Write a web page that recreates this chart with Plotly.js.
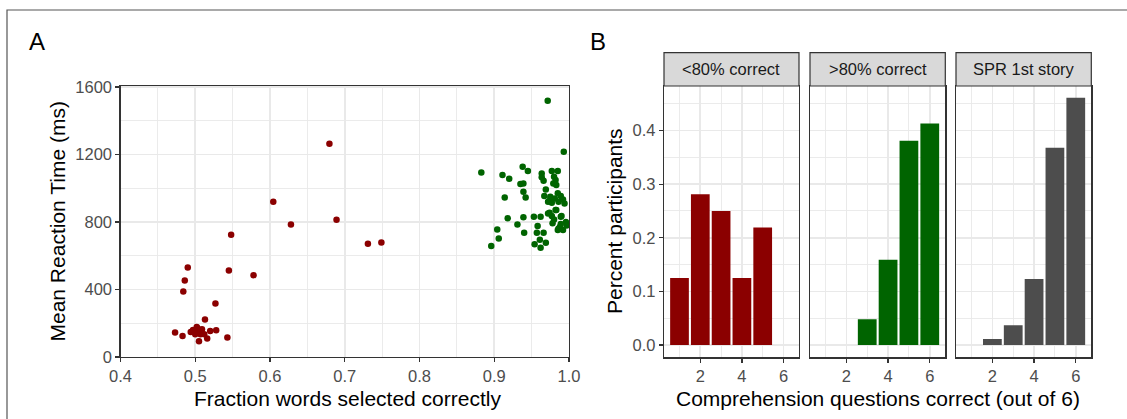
<!DOCTYPE html>
<html>
<head>
<meta charset="utf-8">
<script src="https://cdn.plot.ly/plotly-3.0.1.min.js"></script>
<style>html,body{margin:0;padding:0;background:#fff;}#chart{width:1127px;height:419px;}</style>
</head>
<body>
<div id="chart"></div>
<script>
// ---- Panel A data ----
const lowAccX = [0.6044,0.628,0.548,0.490,0.486,0.484,0.545,0.578,0.527,0.513,0.473,0.483,0.494,0.499,0.502,0.505,0.500,0.507,0.505,0.516,0.512,0.520,0.528,0.543,0.6795,0.689,0.731,0.749,0.497,0.509,0.503];
const lowAccRT = [920,786,724,530,453,388,513,485,317,222,145,125,148,154,178,158,135,135,93,109,135,154,158,115,1264,813,671,679,160,165,170];
const highAccX = [0.8827,0.911,0.920,0.938,0.945,0.935,0.939,0.939,0.942,0.914,0.918,0.931,0.939,0.904,0.906,0.896,0.940,0.953,0.962,0.958,0.957,0.966,0.961,0.954,0.962,0.969,0.9715,0.993,0.9635,0.9635,0.966,0.977,0.985,0.980,0.982,0.979,0.983,0.969,0.967,0.975,0.972,0.977,0.985,0.989,0.992,0.994,0.983,0.974,0.977,0.980,0.989,0.978,0.988,0.992,0.985,0.989,0.975,0.981,0.986,0.990,0.972,0.982,0.986,0.996,0.997];
const highAccRT = [1094,1078,1056,1128,1102,1025,1029,979,946,946,823,786,829,756,703,658,736,831,831,777,737,737,695,669,647,677,1519,1217,1088,1065,1045,1102,1102,1068,1049,1029,1019,993,954,934,920,914,970,954,934,910,871,855,835,815,831,792,772,752,752,788,950,940,920,835,851,871,762,800,780];
const xTicksA = [0.4,0.5,0.6,0.7,0.8,0.9,1.0];
const xTickLabelsA = ['0.4','0.5','0.6','0.7','0.8','0.9','1.0'];
const yTicksA = [0,400,800,1200,1600];

// ---- Panel B data ----
const questionsCorrect = [1,2,3,4,5,6];
const shareLow = [0.125,0.281,0.25,0.125,0.219,0];
const shareHigh = [0,0,0.048,0.159,0.381,0.413];
const shareSPR = [0,0.011,0.037,0.123,0.368,0.461];
const facetLabels = ['<80% correct','>80% correct','SPR 1st story'];
const yTicksB = [0,0.1,0.2,0.3,0.4];
const yTickLabelsB = ['0.0','0.1','0.2','0.3','0.4'];
const xTicksB = [2,4,6];

const W = 1127, H = 419;
const px = v => v / W;
const py = v => 1 - v / H;
const FONT = 'Liberation Sans, Arial, Helvetica, sans-serif';
const RED = '#8B0000', GREEN = '#006400', GREY = '#4D4D4D';
const GRID = '#E9E9E9', BORDER = '#333333', TICKC = '#4D4D4D';

const panelTop = 86, panelBot = 357.3;
const bPanels = [[664,799],[810,945.3],[956,1091.3]];

function baseAxis(extra) {
  return Object.assign({
    showgrid: true, gridcolor: GRID, gridwidth: 1.7,
    zeroline: false, showline: true, mirror: true, linecolor: BORDER, linewidth: 1.2,
    ticks: 'outside', ticklen: 4, tickwidth: 1.2, tickcolor: BORDER,
    tickfont: {family: FONT, size: 16.5, color: TICKC},
    fixedrange: true
  }, extra);
}

const traces = [
  {type:'scatter', mode:'markers', x: lowAccX, y: lowAccRT, xaxis:'x', yaxis:'y',
   marker:{color:RED, size:6.5}, hoverinfo:'x+y'},
  {type:'scatter', mode:'markers', x: highAccX, y: highAccRT, xaxis:'x', yaxis:'y',
   marker:{color:GREEN, size:6.5}, hoverinfo:'x+y'},
  {type:'bar', x: questionsCorrect, y: shareLow, xaxis:'x2', yaxis:'y2', width:0.9,
   marker:{color:RED, line:{width:0}}},
  {type:'bar', x: questionsCorrect, y: shareHigh, xaxis:'x3', yaxis:'y3', width:0.9,
   marker:{color:GREEN, line:{width:0}}},
  {type:'bar', x: questionsCorrect, y: shareSPR, xaxis:'x4', yaxis:'y4', width:0.9,
   marker:{color:GREY, line:{width:0}}}
];

const yDomB = [py(panelBot), py(panelTop)];
const layout = {
  width: W, height: H,
  margin: {l:0, r:0, t:0, b:0},
  paper_bgcolor: '#fff', plot_bgcolor: '#fff',
  showlegend: false,
  font: {family: FONT},
  xaxis: baseAxis({domain:[px(120.5), px(569)], range:[0.4,1.0], anchor:'y',
    tickvals: xTicksA, ticktext: xTickLabelsA,
    minor:{dtick:0.05, tick0:0.4, showgrid:true, gridcolor:GRID, gridwidth:0.9, ticks:''}}),
  yaxis: baseAxis({domain:[py(357), py(85.7)], range:[0,1608], anchor:'x',
    tickvals: yTicksA,
    minor:{dtick:200, tick0:0, showgrid:true, gridcolor:GRID, gridwidth:0.9, ticks:''}}),
  annotations: [],
  shapes: []
};

const bx = ['xaxis2','xaxis3','xaxis4'];
const by = ['yaxis2','yaxis3','yaxis4'];
for (let i = 0; i < 3; i++) {
  const n = i + 2;
  layout[bx[i]] = baseAxis({domain:[px(bPanels[i][0]), px(bPanels[i][1])], range:[0.255,6.745],
    anchor:'y'+n, tickvals: xTicksB,
    minor:{dtick:1, tick0:1, showgrid:true, gridcolor:GRID, gridwidth:0.9, ticks:''}});
  layout[by[i]] = baseAxis({domain: yDomB, range:[-0.023,0.483], anchor:'x'+n,
    tickvals: yTicksB, ticktext: yTickLabelsB,
    showticklabels: i === 0, ticks: i === 0 ? 'outside' : '',
    minor:{dtick:0.05, tick0:0.05, showgrid:true, gridcolor:GRID, gridwidth:0.9, ticks:''}});
  // strip
  layout.shapes.push({type:'rect', xref:'paper', yref:'paper',
    x0: px(bPanels[i][0]), x1: px(bPanels[i][1]), y0: py(86), y1: py(52.7),
    fillcolor:'#D9D9D9', line:{color:BORDER, width:1.2}, layer:'above'});
  layout.annotations.push({xref:'paper', yref:'paper',
    x: px((bPanels[i][0]+bPanels[i][1])/2), y: py(69.5), xanchor:'center', yanchor:'middle',
    text: facetLabels[i].replace('<','&lt;').replace('>','&gt;'), showarrow:false,
    font:{family:FONT, size:16.5, color:'#1A1A1A'}});
}

// outer frame
layout.shapes.push({type:'rect', xref:'paper', yref:'paper',
  x0: px(7), x1: 1.05, y0: -0.05, y1: py(10),
  line:{color:'#555555', width:1.2}, fillcolor:'rgba(0,0,0,0)'});

const txt = (x, y, text, size, opts) => Object.assign({xref:'paper', yref:'paper', x: px(x), y: py(y),
  text, showarrow:false, xanchor:'center', yanchor:'middle', font:{family:FONT, size, color:'#000'}}, opts||{});

layout.annotations.push(
  txt(37, 42, 'A', 24),
  txt(598, 42, 'B', 24),
  txt(347, 398, 'Fraction words selected correctly', 21),
  txt(57, 221.5, 'Mean Reaction Time (ms)', 21, {textangle:-90}),
  txt(614.5, 221.5, 'Percent participants', 21, {textangle:-90}),
  txt(877.7, 398, 'Comprehension questions correct (out of 6)', 21)
);

Plotly.newPlot('chart', traces, layout, {displayModeBar:false, staticPlot:true});
</script>
</body>
</html>
